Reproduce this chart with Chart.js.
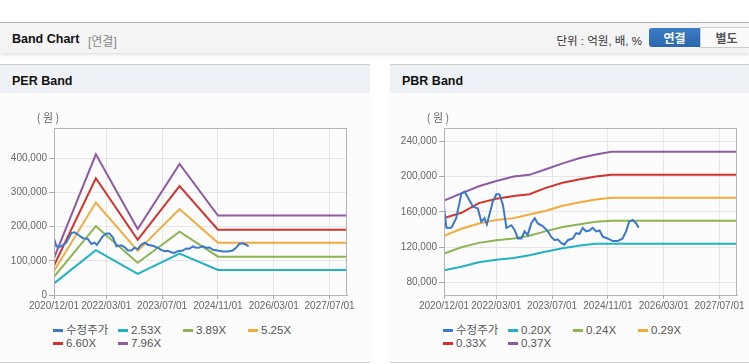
<!DOCTYPE html>
<html lang="ko">
<head>
<meta charset="utf-8">
<script src="https://cdn.jsdelivr.net/npm/chart.js@4.4.1/dist/chart.umd.min.js"></script>
<style>
  body { margin: 0; width: 749px; height: 364px; background: #fff; overflow: hidden;
         font-family: "Liberation Sans", "Noto Sans CJK KR", sans-serif; position: relative; }
  .head { position: absolute; left: 0; top: 22px; width: 749px; height: 30px; background: #f4f4f4;
          border-top: 1px solid #b4b4b4; box-shadow: 0 2px 3px rgba(0,0,0,0.12); }
  .head .title { position: absolute; left: 12px; top: 9px; font-size: 12.5px; font-weight: bold; color: #111; }
  .head .sub { position: absolute; left: 88px; top: 9px; font-size: 12px; color: #888; }
  .head .unit { position: absolute; right: 107px; top: 9px; font-size: 11.5px; color: #333; }
  .btn { position: absolute; top: 5px; height: 19px; line-height: 19px; width: 51px; text-align: center;
         font-size: 12px; font-weight: bold; font-family: "Noto Sans CJK KR", sans-serif; }
  .btn.on { left: 649px; background: linear-gradient(#3b7cc6, #2a67ad); color: #fff; border-radius: 3px 0 0 3px; }
  .btn.off { left: 700px; background: #fafafa; color: #555; border: 1px solid #ccc; top: 4px; }
  .panel { position: absolute; top: 64px; height: 297px; background: #fcfcfc;
           border-top: 1px solid #cfcfcf; border-bottom: 1px solid #cfcfcf; }
  .panel .ptitle { height: 28px; background: #eef1f6; font-size: 12.5px; font-weight: bold; color: #111;
                   line-height: 32px; padding-left: 12px; box-sizing: border-box; }
  .cv { position: absolute; top: 28px; left: 0; }
  .legend { position: absolute; left: 53px; top: 259px; width: 270px; font-size: 11.5px; color: #555; }
  .legend .item { display: inline-block; width: 65px; height: 13px; line-height: 13px; white-space: nowrap; }
  .legend .mk { display: inline-block; width: 10px; height: 3px; vertical-align: middle; margin-right: 3px; }
</style>
</head>
<body>
<div class="head">
  <span class="title">Band Chart</span>
  <span class="sub">[연결]</span>
  <span class="unit">단위 : 억원, 배, %</span>
  <span class="btn on">연결</span>
  <span class="btn off">별도</span>
</div>

<div class="panel" style="left:0; width:370px;">
  <div class="ptitle">PER Band</div>
  <canvas id="perChart" class="cv" width="370" height="230"></canvas>
  <div id="perLegend" class="legend"></div>
</div>

<div class="panel" style="left:390px; width:359px;">
  <div class="ptitle">PBR Band</div>
  <canvas id="pbrChart" class="cv" width="359" height="230"></canvas>
  <div id="pbrLegend" class="legend"></div>
</div>

<script>
// x axis: months counted from 2020/12/01
const xTickMonths = [0, 15, 31, 47, 63, 79];
const xTickLabels = ['2020/12/01', '2022/03/01', '2023/07/01', '2024/11/01', '2026/03/01', '2027/07/01'];

// 수정주가 (adjusted price), shared by both charts
const priceMonths = [0, 0.7, 2.1, 3.5, 5.0, 5.9, 6.9, 8.3, 9.7, 10.7, 11.6, 12.3, 14.0, 15.0, 15.9, 16.9, 17.9,
  19.3, 20.2, 21.2, 22.2, 23.1, 24.0, 25.0, 26.0, 26.9, 28.3, 29.8, 30.7, 31.7, 32.6, 33.6, 34.5, 35.5,
  36.9, 37.9, 38.8, 39.8, 40.7, 41.7, 42.6, 43.6, 44.6, 45.5, 46.9, 48.4, 49.8, 51.2, 52.2, 53.1, 54.1, 55.1, 55.8];
const priceValues = [166000, 142000, 142000, 153000, 181000, 183000, 176000, 166000, 164000, 149000, 153000, 146000,
  172000, 180000, 180000, 168000, 142000, 145000, 140000, 130000, 130000, 138000, 134000, 147000, 153000, 147000,
  144000, 138000, 132000, 128000, 129000, 125000, 123000, 128000, 130000, 136000, 135000, 142000, 138000, 139000,
  142000, 138000, 139000, 132000, 130000, 127000, 127000, 130000, 138000, 149000, 151000, 147000, 142000];

// PER band lines
const perLabels = ['수정주가', '2.53X', '3.89X', '5.25X', '6.60X', '7.96X'];
const perBandMonths = [0, 12, 24, 36, 47, 84];
const per253 = [34000, 131000, 62000, 121000, 73000, 73000];
const per389 = [53000, 201000, 94000, 185000, 112000, 112000];
const per525 = [70000, 270000, 129000, 251000, 153000, 153000];
const per660 = [86000, 341000, 161000, 318000, 191000, 191000];
const per796 = [108000, 411000, 193000, 383000, 232000, 232000];
const perYTicks = [0, 100000, 200000, 300000, 400000];

// PBR band lines
const pbrLabels = ['수정주가', '0.20X', '0.24X', '0.29X', '0.33X', '0.37X'];
const pbrBandMonths = [0, 5, 10, 15, 20, 24.5, 29, 34, 39, 43.5, 48, 84];
const pbr020 = [94000, 98000, 103000, 106000, 108000, 111000, 115000, 119000, 122000, 124000, 124000, 124000];
const pbr024 = [113000, 120000, 125000, 128000, 130000, 133000, 138000, 143000, 146000, 149000, 150000, 150000];
const pbr029 = [133000, 141000, 147000, 151000, 153000, 157000, 161000, 167000, 171000, 174000, 176000, 176000];
const pbr033 = [153000, 159000, 170000, 175000, 178000, 180000, 187000, 193000, 197000, 200000, 202000, 202000];
const pbr037 = [173000, 181000, 189000, 195000, 200000, 202000, 208000, 215000, 221000, 225000, 228000, 228000];
const pbrYTicks = [80000, 120000, 160000, 200000, 240000];

const colors = ['#3a78c8', '#22b2c3', '#8cb552', '#f4a93c', '#d2342d', '#8f5aa2'];

function pts(xs, ys) {
    return xs.map((x, i) => ({ x: x, y: ys[i] }));
}

// frame around the plot area and the (원) unit label
const framePlugin = {
    id: 'frame',
    afterDraw(chart) {
        const a = chart.chartArea;
        const ctx = chart.ctx;
        ctx.save();
        ctx.strokeStyle = '#b4b4b4';
        ctx.lineWidth = 1;
        ctx.strokeRect(a.left + 0.5, a.top + 0.5, a.right - a.left - 1, a.bottom - a.top);
        ctx.fillStyle = '#666';
        ctx.font = '11px "Noto Sans CJK KR"';
        ctx.textAlign = 'center';
        ctx.textBaseline = 'middle';
        ctx.fillText('( 원 )', a.left - 6, a.top - 10);
        ctx.restore();
    }
};

const tickFont = { family: 'Liberation Sans', size: 10 };

function makeChart(id, labels, bandMonths, bands, yMin, yMax, yTicks, padRight) {
    const datasets = [{
        label: labels[0],
        data: pts(priceMonths, priceValues),
        borderColor: colors[0],
        backgroundColor: colors[0]
    }];
    bands.forEach((b, i) => {
        datasets.push({
            label: labels[i + 1],
            data: pts(bandMonths, b),
            borderColor: colors[i + 1],
            backgroundColor: colors[i + 1]
        });
    });

    return new Chart(document.getElementById(id).getContext('2d'), {
        type: 'line',
        data: { datasets: datasets },
        options: {
            responsive: false,
            animation: false,
            layout: { padding: { top: 35, right: padRight, bottom: 0, left: 0 } },
            elements: {
                point: { radius: 0 },
                line: { borderWidth: 2, tension: 0 }
            },
            plugins: { legend: { display: false }, tooltip: { enabled: false } },
            scales: {
                x: {
                    type: 'linear',
                    min: 0,
                    max: 84,
                    afterBuildTicks: axis => { axis.ticks = xTickMonths.map(v => ({ value: v })); },
                    afterFit: axis => { axis.height = 28; },
                    grid: { color: '#e6e6e6', tickLength: 4, tickColor: '#aaa' },
                    border: { color: '#aaa' },
                    ticks: {
                        autoSkip: false, maxRotation: 0, padding: 1, color: '#666', font: tickFont,
                        callback: (v, i) => xTickLabels[i]
                    }
                },
                y: {
                    min: yMin,
                    max: yMax,
                    afterBuildTicks: axis => { axis.ticks = yTicks.map(v => ({ value: v })); },
                    afterFit: axis => { axis.width = 54; },
                    grid: { color: '#e6e6e6', tickLength: 5, tickColor: '#aaa' },
                    border: { color: '#aaa' },
                    ticks: {
                        padding: 2, color: '#666', font: tickFont,
                        callback: v => v.toLocaleString('en-US')
                    }
                }
            }
        },
        plugins: [framePlugin]
    });
}

function buildLegend(chart, elId) {
    const box = document.getElementById(elId);
    chart.data.datasets.forEach(ds => {
        const item = document.createElement('span');
        item.className = 'item';
        const mk = document.createElement('span');
        mk.className = 'mk';
        mk.style.background = ds.borderColor;
        item.appendChild(mk);
        item.appendChild(document.createTextNode(ds.label));
        box.appendChild(item);
    });
}

document.addEventListener('DOMContentLoaded', () => {
    const perChart = makeChart('perChart', perLabels, perBandMonths,
        [per253, per389, per525, per660, per796], 0, 488000, perYTicks, 23);
    const pbrChart = makeChart('pbrChart', pbrLabels, pbrBandMonths,
        [pbr020, pbr024, pbr029, pbr033, pbr037], 66000, 255000, pbrYTicks, 12);
    buildLegend(perChart, 'perLegend');
    buildLegend(pbrChart, 'pbrLegend');
});
</script>
</body>
</html>
